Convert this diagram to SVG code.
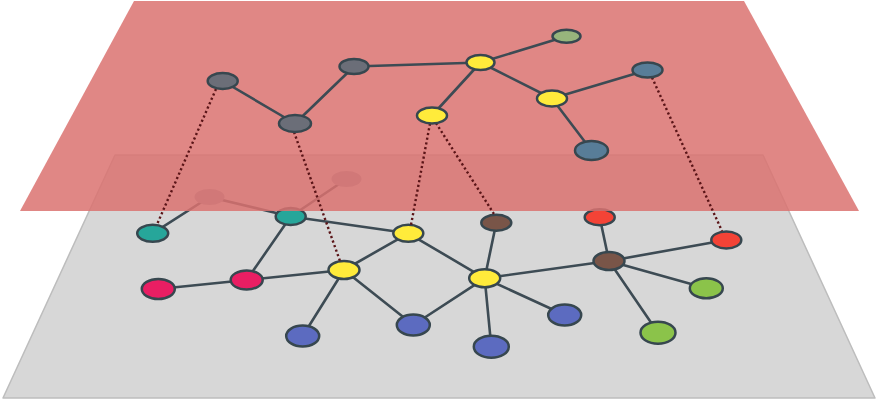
<svg xmlns="http://www.w3.org/2000/svg" width="878" height="405" viewBox="0 0 878 405">
<style>
.edge{stroke:#3d4b54;stroke-width:2.6;fill:none;stroke-linecap:round}
.link{stroke:#5a1417;stroke-width:2.4;fill:none;stroke-dasharray:2.2 2.6}
.n{stroke:#37474f;stroke-width:2.5}
.faded{fill:#9a9ca6;stroke:none}
.gray{fill:#6b6e78}.yel{fill:#ffeb3b}.lgreen{fill:#97b57c}.steel{fill:#587d98}
.teal{fill:#26a69a}.pink{fill:#e91e63}.indigo{fill:#5c6bc0}.brown{fill:#795548}.red{fill:#f44336}.green{fill:#8bc34a}
</style>
<g id="lower-plane"><polygon points="115,155 763,155 875,398 3,398" fill="#d7d7d7" stroke="#bdbdbd" stroke-width="1.5" stroke-linejoin="round"/></g>
<g id="connectors-lower">
<line class="edge" x1="152.7" y1="233.3" x2="209.5" y2="197"/>
<line class="edge" x1="209.5" y1="197" x2="290.7" y2="216.5"/>
<line class="edge" x1="290.7" y1="216.5" x2="346.5" y2="179"/>
<line class="edge" x1="290.7" y1="216.5" x2="408.3" y2="233.3"/>
<line class="edge" x1="290.7" y1="216.5" x2="246.7" y2="280"/>
<line class="edge" x1="158.3" y1="289" x2="246.7" y2="280"/>
<line class="edge" x1="246.7" y1="280" x2="344" y2="270"/>
<line class="edge" x1="344" y1="270" x2="408.3" y2="233.3"/>
<line class="edge" x1="344" y1="270" x2="302.7" y2="336"/>
<line class="edge" x1="344" y1="270" x2="413.3" y2="325"/>
<line class="edge" x1="408.3" y1="233.3" x2="484.7" y2="278.3"/>
<line class="edge" x1="413.3" y1="325" x2="484.7" y2="278.3"/>
<line class="edge" x1="484.7" y1="278.3" x2="496.3" y2="222.7"/>
<line class="edge" x1="484.7" y1="278.3" x2="609" y2="261"/>
<line class="edge" x1="484.7" y1="278.3" x2="564.7" y2="315"/>
<line class="edge" x1="484.7" y1="278.3" x2="491.3" y2="346.7"/>
<line class="edge" x1="609" y1="261" x2="599.7" y2="217.3"/>
<line class="edge" x1="609" y1="261" x2="726.3" y2="240"/>
<line class="edge" x1="609" y1="261" x2="706.3" y2="288.3"/>
<line class="edge" x1="609" y1="261" x2="658" y2="332.7"/>
</g>
<g id="lower-nodes">
<g id="n-fa"><ellipse class="faded" cx="209.5" cy="197" rx="15" ry="8"/></g>
<g id="n-fb"><ellipse class="faded" cx="346.5" cy="179" rx="15" ry="8"/></g>
<g id="n-teal1"><ellipse class="n teal" cx="152.7" cy="233.3" rx="15.5" ry="8.5"/></g>
<g id="n-teal2"><ellipse class="n teal" cx="290.7" cy="216.5" rx="15" ry="8.5"/></g>
<g id="n-y1"><ellipse class="n yel" cx="408.3" cy="233.3" rx="15" ry="8.5"/></g>
<g id="n-y2"><ellipse class="n yel" cx="344" cy="270" rx="15.5" ry="9"/></g>
<g id="n-r1"><ellipse class="n pink" cx="158.3" cy="289" rx="16.5" ry="10"/></g>
<g id="n-r2"><ellipse class="n pink" cx="246.7" cy="280" rx="16" ry="9.5"/></g>
<g id="n-b1"><ellipse class="n indigo" cx="302.7" cy="336" rx="16.5" ry="10.5"/></g>
<g id="n-b2"><ellipse class="n indigo" cx="413.3" cy="325" rx="16.5" ry="10.5"/></g>
<g id="n-br1"><ellipse class="n brown" cx="496.3" cy="222.7" rx="15" ry="8"/></g>
<g id="n-rd3"><ellipse class="n red" cx="599.7" cy="217.3" rx="15" ry="8"/></g>
<g id="n-rd4"><ellipse class="n red" cx="726.3" cy="240" rx="15" ry="8.5"/></g>
<g id="n-br2"><ellipse class="n brown" cx="609" cy="261" rx="15.5" ry="9"/></g>
<g id="n-y3"><ellipse class="n yel" cx="484.7" cy="278.3" rx="15.5" ry="9"/></g>
<g id="n-g1"><ellipse class="n green" cx="706.3" cy="288.3" rx="16.5" ry="10"/></g>
<g id="n-g2"><ellipse class="n green" cx="658" cy="332.7" rx="17.5" ry="11"/></g>
<g id="n-b3"><ellipse class="n indigo" cx="564.7" cy="315" rx="16.5" ry="10.5"/></g>
<g id="n-b4"><ellipse class="n indigo" cx="491.3" cy="346.7" rx="17.5" ry="11"/></g>
</g>
<g id="upper-plane"><polygon points="134,1 744,1 859,211 20,211" fill="rgb(218,114,112)" fill-opacity="0.85"/></g>
<g id="connectors-links">
<line class="link" x1="216" y1="89" x2="157" y2="224.5"/>
<line class="link" x1="294" y1="132" x2="340" y2="261"/>
<line class="link" x1="430" y1="123.5" x2="411" y2="225"/>
<line class="link" x1="436" y1="123" x2="494" y2="214"/>
<line class="link" x1="652" y1="77.5" x2="722" y2="231"/>
</g>
<g id="connectors-upper">
<line class="edge" x1="222.7" y1="81" x2="295" y2="123.5"/>
<line class="edge" x1="295" y1="123.5" x2="354" y2="66.5"/>
<line class="edge" x1="354" y1="66.5" x2="480.5" y2="62.5"/>
<line class="edge" x1="480.5" y1="62.5" x2="566.5" y2="36.3"/>
<line class="edge" x1="480.5" y1="62.5" x2="432" y2="115.5"/>
<line class="edge" x1="480.5" y1="62.5" x2="552" y2="98.5"/>
<line class="edge" x1="552" y1="98.5" x2="647.5" y2="70"/>
<line class="edge" x1="552" y1="98.5" x2="591.5" y2="150.5"/>
</g>
<g id="upper-nodes">
<g id="n-A"><ellipse class="n gray" cx="222.7" cy="81" rx="15" ry="8"/></g>
<g id="n-B"><ellipse class="n gray" cx="295" cy="123.5" rx="16" ry="8.5"/></g>
<g id="n-C"><ellipse class="n gray" cx="354" cy="66.5" rx="14.5" ry="7.5"/></g>
<g id="n-D"><ellipse class="n yel" cx="432" cy="115.5" rx="15" ry="8"/></g>
<g id="n-E"><ellipse class="n yel" cx="480.5" cy="62.5" rx="14" ry="7.5"/></g>
<g id="n-F"><ellipse class="n lgreen" cx="566.5" cy="36.3" rx="14" ry="6.5"/></g>
<g id="n-G"><ellipse class="n yel" cx="552" cy="98.5" rx="15" ry="8"/></g>
<g id="n-H"><ellipse class="n steel" cx="647.5" cy="70" rx="15" ry="7.5"/></g>
<g id="n-I"><ellipse class="n steel" cx="591.5" cy="150.5" rx="16.5" ry="9.5"/></g>
</g>
</svg>
